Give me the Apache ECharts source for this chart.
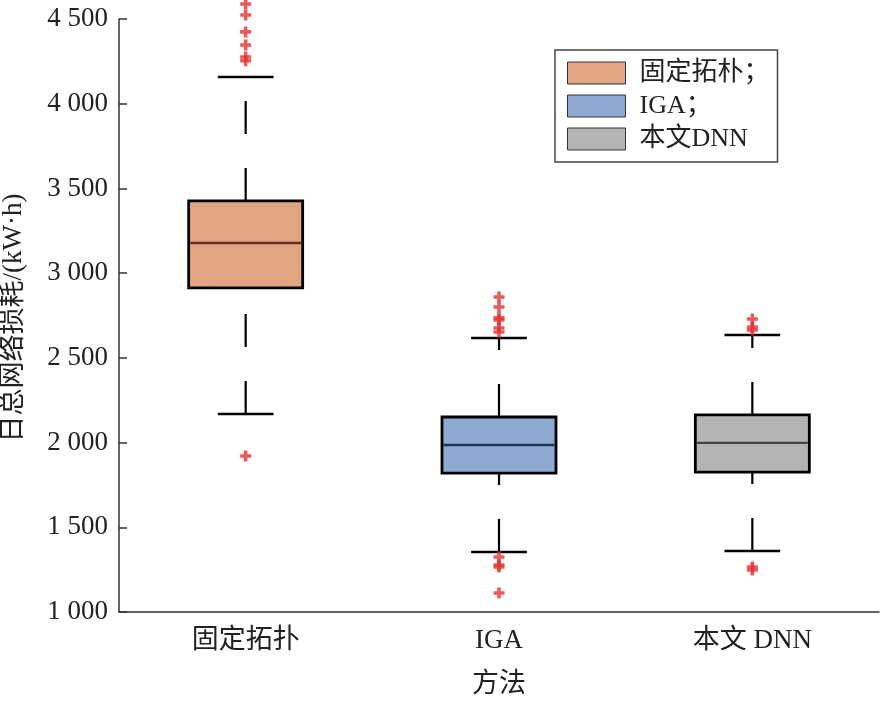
<!DOCTYPE html>
<html>
<head>
<meta charset="utf-8">
<script src="https://cdn.jsdelivr.net/npm/echarts@6/dist/echarts.min.js"></script>
<style>
  html, body { margin: 0; padding: 0; background: #fff; }
  #main { width: 880px; height: 704px; }
</style>
</head>
<body>
<div id="main"></div>
<script>
// 方法类别
var categories = ['固定拓扑', 'IGA', '本文DNN'];
var legendNames = ['固定拓朴；', 'IGA；', '本文DNN'];
// 箱线图统计量: 下须, Q1, 中位数, Q3, 上须
var lowerWhisker = [2169, 1354, 1360];
var q1 = [2913, 1820, 1826];
var median = [3178, 1986, 1998];
var q3 = [3426, 2151, 2163];
var upperWhisker = [4158, 2617, 2635];
// 离群点
var outliers = [
  [4589, 4524, 4424, 4347, 4276, 4253, 1921],
  [2859, 2800, 2736, 2724, 2676, 2653, 1325, 1277, 1266, 1112],
  [2730, 2682, 2665, 1266, 1248]
];
var yTicks = [1000, 1500, 2000, 2500, 3000, 3500, 4000, 4500];
var xTitle = '方法';
var yTitle = '日总网络损耗/(kW·h)';

var fillColors = ['#e2a584', '#8eaad3', '#b5b4b5'];
var medianColors = ['#6a2f1c', '#1f3654', '#454545'];
var serif = "'Liberation Serif', 'Noto Sans CJK SC', serif";

function renderBox(params, api) {
  var i = api.value(0);
  var lo = api.coord([i, api.value(1)]);
  var b1 = api.coord([i, api.value(2)]);
  var md = api.coord([i, api.value(3)]);
  var b3 = api.coord([i, api.value(4)]);
  var hi = api.coord([i, api.value(5)]);
  var band = api.size([1, 0])[0];
  var bw = band * 0.45;
  var cw = band * 0.22;
  var x = lo[0];
  var dash = { stroke: '#000', lineWidth: 2.2, lineDash: [33, 34] };
  var solid = { stroke: '#000', lineWidth: 2.6 };
  return {
    type: 'group',
    children: [
      // 须线从下端往上画
      { type: 'line', shape: { x1: x, y1: lo[1], x2: x, y2: b1[1] }, style: dash },
      { type: 'line', shape: { x1: x, y1: b3[1], x2: x, y2: hi[1] }, style: dash },
      { type: 'line', shape: { x1: x - cw / 2, y1: lo[1], x2: x + cw / 2, y2: lo[1] }, style: solid },
      { type: 'line', shape: { x1: x - cw / 2, y1: hi[1], x2: x + cw / 2, y2: hi[1] }, style: solid },
      {
        type: 'rect',
        shape: { x: x - bw / 2, y: b3[1], width: bw, height: b1[1] - b3[1] },
        style: { fill: fillColors[i], stroke: '#000', lineWidth: 2.8 }
      },
      {
        type: 'line',
        shape: { x1: x - bw / 2 + 1.5, y1: md[1], x2: x + bw / 2 - 1.5, y2: md[1] },
        style: { stroke: medianColors[i], lineWidth: 2.4 }
      }
    ]
  };
}

var series = categories.map(function (c, i) {
  return {
    name: legendNames[i],
    type: 'custom',
    renderItem: renderBox,
    itemStyle: { color: fillColors[i] },
    encode: { x: 0, y: [1, 2, 3, 4, 5] },
    data: [[i, lowerWhisker[i], q1[i], median[i], q3[i], upperWhisker[i]]],
    z: 2
  };
});

var outlierData = [];
outliers.forEach(function (list, i) {
  list.forEach(function (v) { outlierData.push([i, v]); });
});
series.push({
  type: 'scatter',
  data: outlierData,
  clip: false,
  symbol: 'path://M3.4,0H6.6V3.4H10V6.6H6.6V10H3.4V6.6H0V3.4H3.4Z',
  symbolSize: 11,
  itemStyle: { color: '#e62f2f' },
  z: 3
});

var chart = echarts.init(document.getElementById('main'));
chart.setOption({
  animation: false,
  textStyle: { fontFamily: serif },
  grid: { left: 119, right: 1, top: 19, bottom: 92, outerBoundsMode: 'none', containLabel: false },
  legend: {
    orient: 'vertical',
    left: 555,
    top: 50,
    padding: [10, 8, 10, 12],
    itemWidth: 58,
    itemHeight: 22,
    itemGap: 7,
    backgroundColor: '#fff',
    borderColor: '#444',
    borderWidth: 1.5,
    borderRadius: 0,
    selectedMode: false,
    textStyle: { fontFamily: serif, fontSize: 26, color: '#222', padding: [0, 0, 0, 9] },
    data: legendNames.map(function (n, i) {
      return { name: n, icon: 'rect', itemStyle: { color: fillColors[i], borderColor: '#333', borderWidth: 1 } };
    })
  },
  // 坐标轴标题
  graphic: [
    {
      type: 'text', x: 499, y: 685, silent: true,
      style: { text: xTitle, font: '27px ' + serif, fill: '#222', align: 'center', verticalAlign: 'middle' }
    },
    {
      type: 'text', x: 14, y: 318, rotation: Math.PI / 2, silent: true,
      style: { text: yTitle, font: '27px ' + serif, fill: '#222', align: 'center', verticalAlign: 'middle' }
    }
  ],
  xAxis: {
    type: 'category',
    data: categories,
    boundaryGap: true,
    axisLine: { lineStyle: { color: '#333', width: 1.5 } },
    axisTick: { inside: true, length: 10, lineStyle: { color: '#333', width: 1.5 } },
    axisLabel: {
      fontFamily: serif, fontSize: 27, color: '#222', margin: 15,
      formatter: function (v) { return v === '本文DNN' ? '本文 DNN' : v; }
    },
    splitLine: { show: false }
  },
  yAxis: {
    type: 'value',
    min: 1000,
    max: 4500,
    interval: 500,
    axisLine: { show: true, lineStyle: { color: '#333', width: 1.5 } },
    axisTick: { show: true, inside: true, length: 8, lineStyle: { color: '#333', width: 1.5 } },
    axisLabel: {
      fontFamily: serif, fontSize: 27, color: '#222', margin: 11,
      formatter: function (v) {
        if (yTicks.indexOf(v) < 0) return '';
        var s = String(v);
        return s.slice(0, s.length - 3) + ' ' + s.slice(-3);
      }
    },
    splitLine: { show: false }
  },
  series: series
});
</script>
</body>
</html>
